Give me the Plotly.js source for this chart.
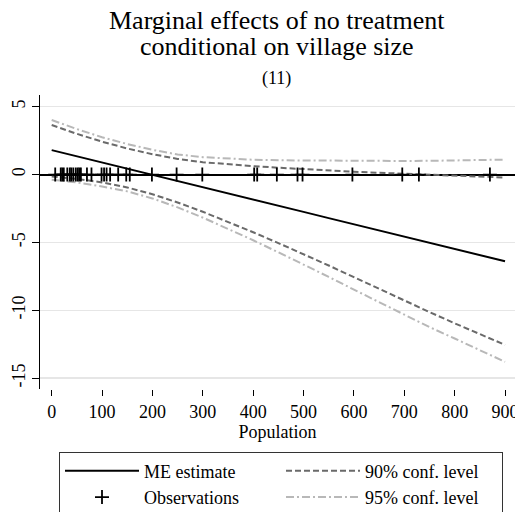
<!DOCTYPE html>
<html>
<head>
<meta charset="utf-8">
<script src="https://cdn.plot.ly/plotly-3.0.1.min.js"></script>
<style>html,body{margin:0;padding:0;background:#fff;}#chart{width:515px;height:512px;}</style>
</head>
<body>
<div id="chart"></div>
<script>
// Population grid (x) for the estimated curves
const pop = [0, 50, 100, 150, 200, 250, 300, 350, 400, 450, 500, 550, 600, 650, 700, 750, 800, 850, 900];
// Marginal effect estimate
const meEstimate = [1.80, 1.35, 0.89, 0.44, -0.02, -0.48, -0.93, -1.39, -1.84, -2.30, -2.75, -3.21, -3.66, -4.12, -4.57, -5.03, -5.48, -5.94, -6.39];
// 90% confidence band
const ci90Upper = [3.65, 3.00, 2.42, 1.92, 1.50, 1.15, 0.91, 0.75, 0.62, 0.50, 0.39, 0.30, 0.21, 0.13, 0.06, -0.01, -0.08, -0.15, -0.22];
const ci90Lower = [-0.14, -0.32, -0.58, -0.95, -1.45, -2.06, -2.74, -3.48, -4.25, -5.05, -5.86, -6.70, -7.56, -8.43, -9.29, -10.13, -10.96, -11.78, -12.55];
// 95% confidence band
const ci95Upper = [4.02, 3.35, 2.75, 2.25, 1.82, 1.48, 1.28, 1.16, 1.09, 1.05, 1.03, 1.01, 1.00, 1.00, 1.00, 1.01, 1.03, 1.06, 1.10];
const ci95Lower = [-0.38, -0.58, -0.88, -1.24, -1.76, -2.42, -3.17, -3.98, -4.84, -5.73, -6.62, -7.54, -8.48, -9.42, -10.34, -11.24, -12.08, -12.92, -13.80];
// Observed village sizes (rug of "+" markers on the zero line)
const obsPop = [7, 18, 21, 24, 31, 36, 39, 43, 48, 52, 55, 58, 70, 79, 99, 104, 109, 116, 132, 148, 155, 199, 248, 299, 402, 408, 447, 488, 498, 597, 696, 729, 870];
const obsY = [0,0,0,0,0,0,0,0,0,0,0,0,0,0,0,0,0,0,0,0,0,0,0,0,0,0,0,0,0,0,0,0,0];
// Tick labels
const xTickVals = [0, 100, 200, 300, 400, 500, 600, 700, 800, 900];
const xTickText = ['0', '100', '200', '300', '400', '500', '600', '700', '800', '900'];
const yTickVals = [-15, -10, -5, 0, 5];
const yTickText = ['-15', '-10', '-5', '0', '5'];
// Texts
const titleLine1 = 'Marginal effects of no treatment';
const titleLine2 = 'conditional on village size';
const subtitleText = '(11)';
const xTitle = 'Population';
const names = {me: 'ME estimate', obs: 'Observations', c90: '90% conf. level', c95: '95% conf. level'};

const FONT = 'Liberation Serif, Times New Roman, serif';
const dark = '#6a6a6a', light = '#b8b8b8';
const dash90 = '6px,3px', dash95 = '8px,3px,2px,3px';

const traces = [
  {x: pop, y: ci95Upper, mode: 'lines', name: names.c95, legendrank: 4,
   line: {color: light, width: 2, dash: dash95}},
  {x: pop, y: ci95Lower, mode: 'lines', name: names.c95, showlegend: false,
   line: {color: light, width: 2, dash: dash95}},
  {x: pop, y: ci90Upper, mode: 'lines', name: names.c90, legendrank: 2,
   line: {color: dark, width: 2, dash: dash90}},
  {x: pop, y: ci90Lower, mode: 'lines', name: names.c90, showlegend: false,
   line: {color: dark, width: 2, dash: dash90}},
  {x: pop, y: meEstimate, mode: 'lines', name: names.me, legendrank: 1,
   line: {color: '#000', width: 2}},
  {x: obsPop, y: obsY, mode: 'markers', name: names.obs, legendrank: 3,
   marker: {symbol: 'cross-thin', size: 10, line: {color: '#000', width: 1.8}}}
];

const T = 95, B = 389;
const py = v => (B - v) / (B - T);

const layout = {
  width: 515, height: 512,
  margin: {l: 40, r: 0, t: T, b: 512 - B, autoexpand: false},
  paper_bgcolor: '#fff', plot_bgcolor: '#fff',
  font: {family: FONT, size: 18, color: '#000'},
  showlegend: true,
  xaxis: {
    range: [-23.2, 919.8], showgrid: false, zeroline: false, showline: false,
    tickmode: 'array', tickvals: xTickVals, ticktext: xTickText,
    ticks: 'outside', ticklen: 6, tickwidth: 1, tickcolor: '#000',
    ticklabeloverflow: 'allow',
    tickfont: {family: FONT, size: 18, color: '#000'},
    title: {text: xTitle, font: {family: FONT, size: 18, color: '#000'}, standoff: 4}
  },
  yaxis: {
    range: [-15.8, 5.86], showline: true, linecolor: '#000', linewidth: 1,
    showgrid: true, gridcolor: '#e6e6e6', gridwidth: 1.3,
    zeroline: true, zerolinecolor: '#000', zerolinewidth: 2,
    tickmode: 'array', tickvals: yTickVals, ticktext: yTickText,
    ticks: 'outside', ticklen: 7, tickwidth: 1, tickcolor: '#000',
    tickangle: -90,
    tickfont: {family: FONT, size: 18, color: '#000'}
  },
  legend: {
    orientation: 'h', x: (59 - 40) / 475, xanchor: 'left', y: py(451.5), yanchor: 'top',
    bordercolor: '#333', borderwidth: 1, bgcolor: '#fff',
    entrywidth: 132, entrywidthmode: 'pixels', itemwidth: 74,
    font: {family: FONT, size: 18, color: '#000'}, traceorder: 'normal'
  },
  annotations: [
    {text: titleLine1, xref: 'paper', yref: 'paper', x: 0.498, y: py(20.7), xanchor: 'center', yanchor: 'middle',
     showarrow: false, font: {family: FONT, size: 26, color: '#000'}},
    {text: titleLine2, xref: 'paper', yref: 'paper', x: 0.498, y: py(46.4), xanchor: 'center', yanchor: 'middle',
     showarrow: false, font: {family: FONT, size: 26, color: '#000'}},
    {text: subtitleText, xref: 'paper', yref: 'paper', x: 0.498, y: py(79), xanchor: 'center', yanchor: 'middle',
     showarrow: false, font: {family: FONT, size: 18, color: '#000'}}
  ]
};

Plotly.newPlot('chart', traces, layout, {displayModeBar: false, staticPlot: true});
</script>
</body>
</html>
